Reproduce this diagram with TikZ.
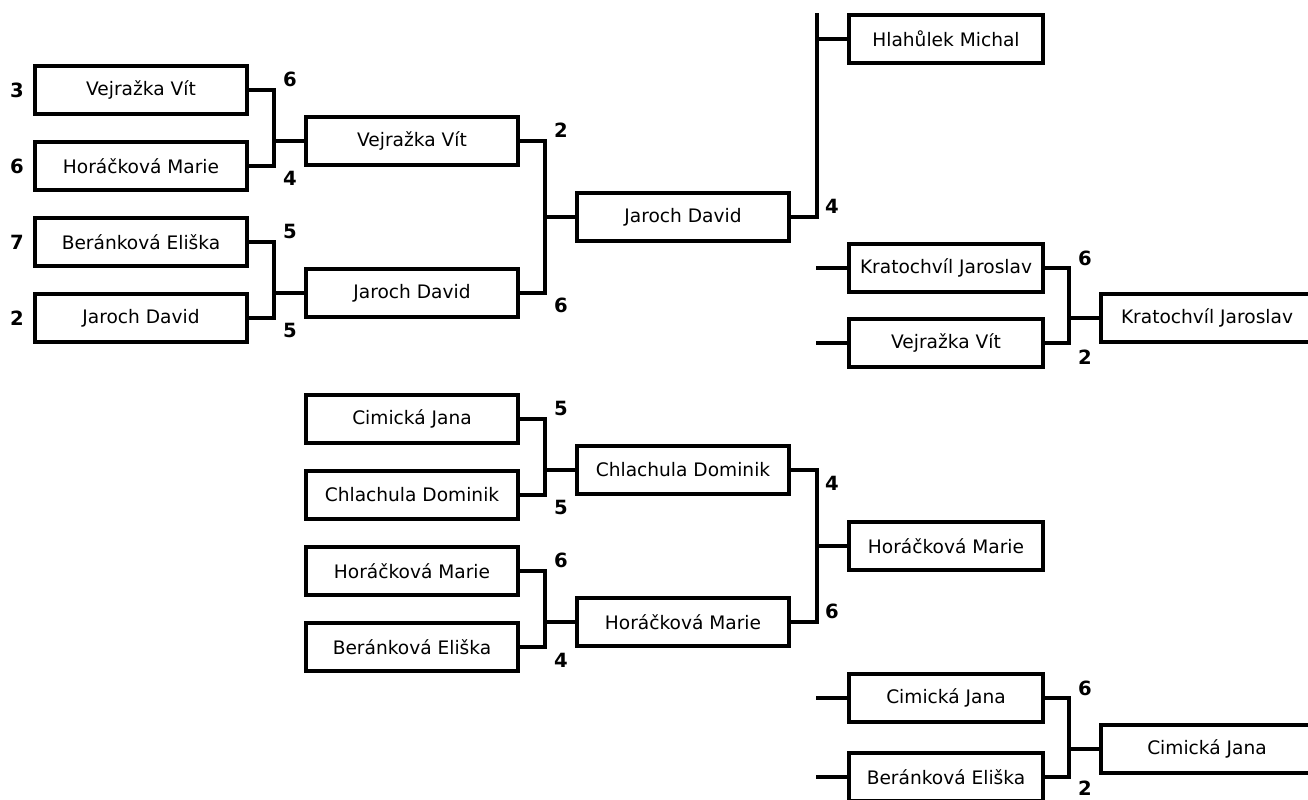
\documentclass[tikz,border=0pt]{standalone}
\usepackage{fontspec}
\setmainfont{DejaVu Sans}
\begin{document}
\begin{tikzpicture}[x=0.5pt,y=-0.5pt,
  box/.style={draw=black, line width=1.7pt, minimum width=106pt, minimum height=24pt,
    inner sep=0pt, font=\fontsize{9.3pt}{11pt}\selectfont, fill=white},
  narrowbox/.style={box, minimum width=97pt},
  conn/.style={draw=black, line width=1.7pt},
  score/.style={inner sep=0pt, font=\fontsize{9.8pt}{11pt}\selectfont\bfseries}]
\clip (0,0) rectangle (1308,799);
\fill[white] (0,0) rectangle (1308,799);
% verticals
\coordinate (v1) at (274,0);
\coordinate (v2) at (545,0);
\coordinate (v3) at (817,0);
\coordinate (v4) at (1069,0);
\coordinate (vtop) at (817,13);
\coordinate (stub) at (816,0);
% column 1
\node[box] (A1) at (141,90) {Vejražka Vít};
\node[box] (A2) at (141,166) {Horáčková Marie};
\node[box] (A3) at (141,242) {Beránková Eliška};
\node[box] (A4) at (141,318) {Jaroch David};
% column 2
\node[box] (B1) at (412,141) {Vejražka Vít};
\node[box] (B2) at (412,293) {Jaroch David};
\node[box] (B3) at (412,419) {Cimická Jana};
\node[box] (B4) at (412,495) {Chlachula Dominik};
\node[box] (B5) at (412,571) {Horáčková Marie};
\node[box] (B6) at (412,647) {Beránková Eliška};
% column 3
\node[box] (C1) at (683,217) {Jaroch David};
\node[box] (C2) at (683,470) {Chlachula Dominik};
\node[box] (C3) at (683,622) {Horáčková Marie};
% column 4
\node[narrowbox] (D1) at (946,39) {Hlahůlek Michal};
\node[narrowbox] (D2) at (946,268) {Kratochvíl Jaroslav};
\node[narrowbox] (D3) at (946,343) {Vejražka Vít};
\node[narrowbox] (D4) at (946,546) {Horáčková Marie};
\node[narrowbox] (D5) at (946,698) {Cimická Jana};
\node[narrowbox] (D6) at (946,777) {Beránková Eliška};
% finals
\node[box] (E1) at (1207,318) {Kratochvíl Jaroslav};
\node[box] (E2) at (1207,749) {Cimická Jana};
% connectors
\newcommand{\bjoin}[4]{%
  \draw[conn] (#1.east) -| (#4 |- #2.east) -- (#2.east);
  \draw[conn] (#4 |- #3.west) -- (#3.west);}
\bjoin{A1}{A2}{B1}{v1}
\bjoin{A3}{A4}{B2}{v1}
\bjoin{B1}{B2}{C1}{v2}
\bjoin{B3}{B4}{C2}{v2}
\bjoin{B5}{B6}{C3}{v2}
\bjoin{C2}{C3}{D4}{v3}
\bjoin{D2}{D3}{E1}{v4}
\bjoin{D5}{D6}{E2}{v4}
\draw[conn] (C1.east) -| (vtop);
\draw[conn] (vtop |- D1.west) -- (D1.west);
\draw[conn] (stub |- D2.west) -- (D2.west);
\draw[conn] (stub |- D3.west) -- (D3.west);
\draw[conn] (stub |- D5.west) -- (D5.west);
\draw[conn] (stub |- D6.west) -- (D6.west);
% scores
\node[score] (sa1) at (17,90) {3};
\node[score] (sa2) at (17,166) {6};
\node[score] (sa3) at (17,242) {7};
\node[score] (sa4) at (17,318) {2};
\node[score] (sb1) at (290,79) {6};
\node[score] (sb2) at (290,178) {4};
\node[score] (sb3) at (290,231) {5};
\node[score] (sb4) at (290,330) {5};
\node[score] (sc1) at (561,130) {2};
\node[score] (sc2) at (561,305) {6};
\node[score] (sc3) at (561,408) {5};
\node[score] (sc4) at (561,507) {5};
\node[score] (sc5) at (561,560) {6};
\node[score] (sc6) at (561,660) {4};
\node[score] (sd1) at (832,206) {4};
\node[score] (sd2) at (832,483) {4};
\node[score] (sd3) at (832,611) {6};
\node[score] (se1) at (1085,258) {6};
\node[score] (se2) at (1085,357) {2};
\node[score] (se3) at (1085,688) {6};
\node[score] (se4) at (1085,788) {2};
\end{tikzpicture}
\end{document}
